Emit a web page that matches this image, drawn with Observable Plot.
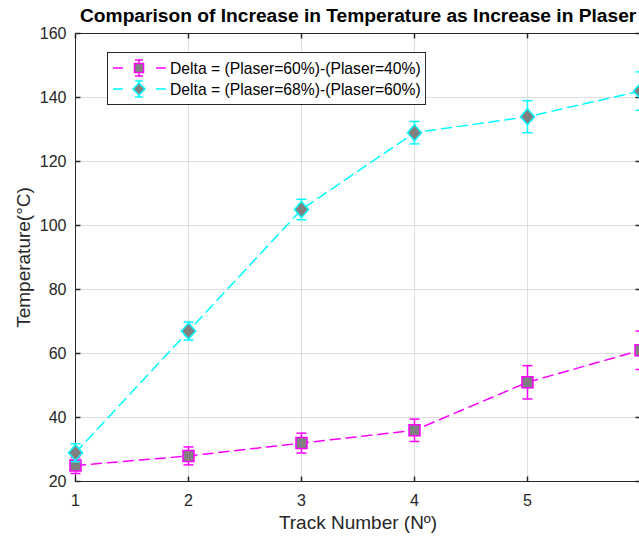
<!DOCTYPE html>
<html>
<head>
<meta charset="utf-8">
<script src="https://cdn.jsdelivr.net/npm/d3@7"></script>
<script src="https://cdn.jsdelivr.net/npm/@observablehq/plot@0.6"></script>
<style>
  html, body { margin: 0; padding: 0; background: #fff; }
  #wrap { position: relative; width: 639px; height: 538px; overflow: hidden; font-family: "Liberation Sans", Arial, sans-serif; }
  #chart svg { max-width: none !important; display: block; }
  #title { position: absolute; left: 80px; top: 5px; font-weight: bold; font-size: 19.2px; color: #000; white-space: nowrap; }
  #legend { position: absolute; left: 107px; top: 52px; width: 319px; height: 53px; border: 1px solid #262626; background: #fff; box-sizing: border-box; }
  #legend svg { position: absolute; left: 0; top: 0; }
</style>
</head>
<body>
<div id="wrap">
  <div id="chart"></div>
  <div id="title"></div>
  <div id="legend"></div>
</div>
<script>
const tracks = [1, 2, 3, 4, 5, 6];
const delta1 = [25, 28, 32, 36, 51, 61];     // (Plaser=60%)-(Plaser=40%)
const err1   = [2.5, 2.8, 3.1, 3.5, 5.2, 6];
const delta2 = [29, 67, 105, 129, 134, 142]; // (Plaser=68%)-(Plaser=60%)
const err2   = [2.8, 2.8, 3.2, 3.5, 5, 6];
const xTicks = [1, 2, 3, 4, 5, 6];
const xTickLabels = [1, 2, 3, 4, 5];
const yTicks = [20, 40, 60, 80, 100, 120, 140, 160];
const seriesNames = ["Delta = (Plaser=60%)-(Plaser=40%)", "Delta = (Plaser=68%)-(Plaser=60%)"];
const titleText = "Comparison of Increase in Temperature as Increase in Plaser";
const xLabel = "Track Number (Nº)";
const yLabel = "Temperature(°C)";

const c1 = "#ff00ff", c2 = "#00ffff", fillGray = "#808080", axisCol = "#262626";

const s1 = tracks.map((t, i) => ({x: t, y: delta1[i], lo: delta1[i] - err1[i], hi: delta1[i] + err1[i]}));
const s2 = tracks.map((t, i) => ({x: t, y: delta2[i], lo: delta2[i] - err2[i], hi: delta2[i] + err2[i]}));

const sym = (f) => ({draw(ctx) { f(ctx); }});
const squareSym = sym(ctx => { ctx.moveTo(-5.5, -5.5); ctx.lineTo(5.5, -5.5); ctx.lineTo(5.5, 5.5); ctx.lineTo(-5.5, 5.5); ctx.closePath(); });
const diamondSym = sym(ctx => { ctx.moveTo(0, -8); ctx.lineTo(7, 0); ctx.lineTo(0, 8); ctx.lineTo(-7, 0); ctx.closePath(); });
const capSym = sym(ctx => { ctx.moveTo(-5, 0); ctx.lineTo(5, 0); });
const tickUp = sym(ctx => { ctx.moveTo(0, 0); ctx.lineTo(0, -5); });
const tickDown = sym(ctx => { ctx.moveTo(0, 0); ctx.lineTo(0, 5); });
const tickRight = sym(ctx => { ctx.moveTo(0, 0); ctx.lineTo(5, 0); });
const tickLeft = sym(ctx => { ctx.moveTo(0, 0); ctx.lineTo(-5, 0); });

function seriesMarks(data, color, symbol) {
  return [
    Plot.line(data, {x: "x", y: "y", stroke: color, strokeWidth: 1.5, strokeDasharray: "10,6"}),
    Plot.ruleX(data, {x: "x", y1: "lo", y2: "hi", stroke: color, strokeWidth: 1.5}),
    Plot.dot(data, {x: "x", y: "lo", symbol: capSym, stroke: color, strokeWidth: 1.5}),
    Plot.dot(data, {x: "x", y: "hi", symbol: capSym, stroke: color, strokeWidth: 1.5}),
    Plot.dot(data, {x: "x", y: "y", symbol: symbol, fill: fillGray, stroke: color, strokeWidth: 1.5})
  ];
}

const yMin = d3.min(yTicks), yMax = d3.max(yTicks), xMin = d3.min(xTicks), xMax = d3.max(xTicks);

const chart = Plot.plot({
  width: 680,
  height: 538,
  marginTop: 33,
  marginBottom: 57,
  marginLeft: 75,
  marginRight: 40,
  style: {fontFamily: "'Liberation Sans', Arial, sans-serif", fontSize: "16px", color: axisCol, background: "#fff", maxWidth: "none"},
  x: {domain: [xMin, xMax], ticks: xTicks},
  y: {domain: [yMin, yMax], ticks: yTicks},
  marks: [
    Plot.gridX(xTicks, {stroke: "#dedede", strokeOpacity: 1, strokeWidth: 1}),
    Plot.gridY(yTicks, {stroke: "#dedede", strokeOpacity: 1, strokeWidth: 1}),
    Plot.axisX(xTickLabels, {tickSize: 0, tickPadding: 13, fontSize: 16, fill: axisCol, label: xLabel, labelAnchor: "center", labelOffset: 47, labelArrow: "none"}),
    Plot.axisY(yTicks, {tickSize: 0, tickPadding: 9, fontSize: 16, fill: axisCol, label: yLabel, labelAnchor: "center", labelOffset: 59, labelArrow: "none"}),
    Plot.frame({stroke: axisCol, strokeWidth: 1}),
    Plot.dot(xTicks, {x: d => d, y: () => yMin, symbol: tickUp, stroke: axisCol}),
    Plot.dot(xTicks, {x: d => d, y: () => yMax, symbol: tickDown, stroke: axisCol}),
    Plot.dot(yTicks, {y: d => d, x: () => xMin, symbol: tickRight, stroke: axisCol}),
    Plot.dot(yTicks, {y: d => d, x: () => xMax, symbol: tickLeft, stroke: axisCol}),
    ...seriesMarks(s1, c1, squareSym),
    ...seriesMarks(s2, c2, diamondSym)
  ]
});
chart.querySelectorAll('[aria-label="x-axis label"] text, [aria-label="y-axis label"] text').forEach(t => t.setAttribute("font-size", "19"));
document.getElementById("chart").appendChild(chart);
document.getElementById("title").textContent = titleText;

// legend
const lg = d3.select("#legend").append("svg").attr("width", 319).attr("height", 53);
const legendItems = [
  {name: seriesNames[0], color: c1, shape: "square"},
  {name: seriesNames[1], color: c2, shape: "diamond"}
];
legendItems.forEach((it, i) => {
  const cy = 15 + i * 21;
  const g = lg.append("g").attr("transform", `translate(0,${cy})`);
  g.append("line").attr("x1", 5).attr("x2", 15).attr("y1", 0).attr("y2", 0).attr("stroke", it.color).attr("stroke-width", 1.5);
  g.append("line").attr("x1", 48).attr("x2", 58).attr("y1", 0).attr("y2", 0).attr("stroke", it.color).attr("stroke-width", 1.5);
  g.append("line").attr("x1", 31).attr("x2", 31).attr("y1", -8).attr("y2", 8).attr("stroke", it.color).attr("stroke-width", 1.5);
  g.append("line").attr("x1", 27).attr("x2", 35).attr("y1", -8).attr("y2", -8).attr("stroke", it.color).attr("stroke-width", 1.5);
  g.append("line").attr("x1", 27).attr("x2", 35).attr("y1", 8).attr("y2", 8).attr("stroke", it.color).attr("stroke-width", 1.5);
  if (it.shape === "square") {
    g.append("rect").attr("x", 26.5).attr("y", -4.5).attr("width", 9).attr("height", 9).attr("fill", fillGray).attr("stroke", it.color).attr("stroke-width", 1.5);
  } else {
    g.append("path").attr("d", "M31,-6L37,0L31,6L25,0Z").attr("fill", fillGray).attr("stroke", it.color).attr("stroke-width", 1.5);
  }
  g.append("text").attr("x", 62).attr("y", 0).attr("dy", "0.35em").attr("font-size", 15.7).attr("fill", "#000")
    .attr("font-family", "'Liberation Sans', Arial, sans-serif").text(it.name);
});
</script>
</body>
</html>
